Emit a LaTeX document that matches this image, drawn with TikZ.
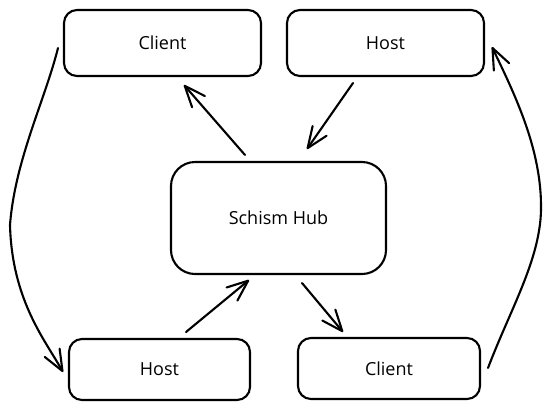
\documentclass[tikz,border=0pt]{standalone}
\usepackage{fontspec}
\setmainfont{Open Sans}
\usetikzlibrary{arrows.meta}
\begin{document}
\begin{tikzpicture}[x=1pt,y=-1pt,
  box/.style={draw, line width=2.1pt, rounded corners=13pt, inner sep=0pt, outer sep=0pt,
    font=\fontsize{18}{22}\selectfont},
  arr/.style={line width=2.1pt, line cap=round, line join=round,
    -{Straight Barb[length=21pt,width=17pt,round]}}]
  \useasboundingbox (0,0) rectangle (553,410);

  % nodes
  \node[box, minimum width=197pt, minimum height=66pt] (clientA) at (162.5,43) {Client};
  \node[box, minimum width=197pt, minimum height=66pt] (hostA) at (385.5,43) {Host};
  \node[box, minimum width=215pt, minimum height=112pt, rounded corners=24pt] (hub) at (278.5,218) {Schism Hub};
  \node[box, minimum width=181pt, minimum height=61pt] (hostB) at (159.5,369.5) {Host};
  \node[box, minimum width=182pt, minimum height=61pt] (clientB) at (389,368.5) {Client};

  % connector end points
  \coordinate (hubNW) at (245,155);
  \coordinate (clientAin) at (184,85);
  \coordinate (hostAout) at (353,83);
  \coordinate (hubNE) at (307,149);
  \coordinate (hostBout) at (186,332);
  \coordinate (hubSW) at (249,280);
  \coordinate (hubSE) at (302,283);
  \coordinate (clientBin) at (343,332);
  \coordinate (clientAout) at (58,48);
  \coordinate (leftBend) at (10,225);
  \coordinate (hostBin) at (63,372);
  \coordinate (clientBout) at (488,368);
  \coordinate (rightBend) at (541,210);
  \coordinate (hostAin) at (492,47);

  % hub connections
  \draw[arr] (hubNW) -- (clientAin);
  \draw[arr] (hostAout) -- (hubNE);
  \draw[arr] (hostBout) -- (hubSW);
  \draw[arr] (hubSE) -- (clientBin);

  % outer loops
  \draw[arr] (clientAout) .. controls (45,100) and (15,160) .. (leftBend)
    .. controls (12,300) and (45,340) .. (hostBin);
  \draw[arr] (clientBout) .. controls (510,310) and (540,260) .. (rightBend)
    .. controls (542,150) and (515,95) .. (hostAin);
\end{tikzpicture}
\end{document}
